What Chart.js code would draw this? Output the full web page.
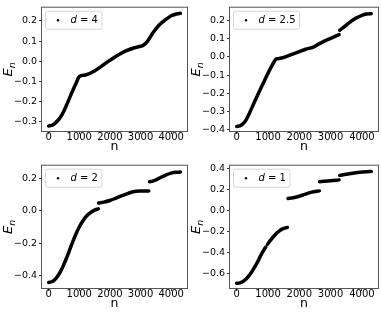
<!DOCTYPE html>
<html>
<head>
<meta charset="utf-8">
<script src="https://cdn.jsdelivr.net/npm/chart.js@4.4.1/dist/chart.umd.min.js"></script>
<style>
html, body { margin: 0; padding: 0; background: #fff; }
#wrap { position: relative; width: 381px; height: 317px; }
canvas { position: absolute; }
</style>
</head>
<body>
<div id="wrap">
  <canvas id="c1" width="190" height="158" style="left:0px;top:0px"></canvas>
  <canvas id="c2" width="191" height="158" style="left:190px;top:0px"></canvas>
  <canvas id="c3" width="190" height="159" style="left:0px;top:158px"></canvas>
  <canvas id="c4" width="191" height="159" style="left:190px;top:158px"></canvas>
</div>
<script>
// x ticks shared by all panels
const nTicks = [0, 1000, 2000, 3000, 4000];

// d = 4
const d4N = [0, 100, 200, 300, 400, 500, 600, 700, 800, 900, 1000, 1200, 1500, 2000, 2500, 2800, 3000, 3080, 3230, 3400, 3600, 3770, 4000, 4200, 4300];
const d4E = [-0.32, -0.317, -0.308, -0.293, -0.273, -0.246, -0.212, -0.176, -0.141, -0.108, -0.076, -0.068, -0.048, 0.005, 0.05, 0.067, 0.074, 0.078, 0.1, 0.14, 0.178, 0.2, 0.225, 0.235, 0.237];
const d4Ticks = [-0.3, -0.2, -0.1, 0.0, 0.1, 0.2];

// d = 2.5
const d25N = [0, 100, 200, 300, 400, 500, 600, 700, 800, 900, 1000, 1100, 1200, 1250, 1300, 1500, 1700, 2000, 2200, 2450, 2600, 2800, 3000, 3270, null, 3290, 3400, 3600, 3800, 4000, 4150, 4300];
const d25E = [-0.385, -0.382, -0.37, -0.348, -0.314, -0.275, -0.237, -0.199, -0.162, -0.126, -0.09, -0.056, -0.025, -0.012, -0.01, -0.003, 0.01, 0.03, 0.043, 0.055, 0.07, 0.088, 0.103, 0.124, null, 0.148, 0.162, 0.19, 0.214, 0.231, 0.238, 0.24];
const d25Ticks = [-0.4, -0.3, -0.2, -0.1, 0.0, 0.1, 0.2];

// d = 2
const d2N = [0, 100, 200, 300, 400, 500, 600, 700, 800, 900, 1000, 1100, 1200, 1300, 1400, 1500, 1620, null, 1630, 1800, 2000, 2200, 2400, 2600, 2800, 3000, 3270, null, 3290, 3400, 3600, 3800, 4000, 4150, 4300];
const d2E = [-0.445, -0.441, -0.428, -0.405, -0.373, -0.333, -0.286, -0.236, -0.186, -0.14, -0.1, -0.067, -0.04, -0.02, -0.006, 0.005, 0.013, null, 0.05, 0.055, 0.065, 0.08, 0.096, 0.11, 0.121, 0.124, 0.125, null, 0.182, 0.186, 0.203, 0.222, 0.236, 0.241, 0.242];
const d2Ticks = [-0.4, -0.2, 0.0, 0.2];

// d = 1
const d1N = [0, 100, 200, 300, 400, 500, 600, 700, 800, 900, 930, null, 985, 1100, 1200, 1300, 1400, 1500, 1620, null, 1640, 1800, 2000, 2200, 2400, 2640, null, 2650, 2800, 3000, 3270, null, 3290, 3400, 3600, 3800, 4000, 4150, 4300];
const d1E = [-0.69, -0.686, -0.672, -0.65, -0.615, -0.572, -0.522, -0.467, -0.408, -0.357, -0.345, null, -0.318, -0.272, -0.237, -0.207, -0.183, -0.167, -0.158, null, 0.118, 0.124, 0.14, 0.16, 0.178, 0.19, null, 0.278, 0.281, 0.286, 0.295, null, 0.338, 0.343, 0.354, 0.363, 0.369, 0.373, 0.375];
const d1Ticks = [-0.6, -0.4, -0.2, 0.0, 0.2, 0.4];

const FONT = 'DejaVu Sans';

function fmtTick(v) {
    const s = Math.abs(v).toFixed(1);
    return (v < -1e-9 ? '\u2212' : '') + s;
}

// frame, legend box and axis labels
const panelDecor = {
    id: 'panelDecor',
    afterDraw(chart, args, opts) {
        const ctx = chart.ctx;
        const a = chart.chartArea;
        ctx.save();

        // spines
        ctx.strokeStyle = '#555';
        ctx.lineWidth = 1;
        ctx.strokeRect(a.left - 0.5, a.top - 0.5, a.right - a.left + 1, a.bottom - a.top + 1);

        // legend
        const rest = ' = ' + opts.value;
        ctx.font = 'italic 10px ' + FONT;
        const dW = ctx.measureText('d').width;
        ctx.font = '10px ' + FONT;
        const rW = ctx.measureText(rest).width;
        const bx = a.left + 3.5, by = a.top + 3.5, bh = 18;
        const bw = 25 + dW + rW + 4;
        ctx.beginPath();
        ctx.roundRect(bx, by, bw, bh, 2);
        ctx.fillStyle = 'rgba(255,255,255,0.85)';
        ctx.fill();
        ctx.strokeStyle = '#d6d6d6';
        ctx.stroke();
        ctx.beginPath();
        ctx.arc(bx + 12.5, by + bh / 2, 1.2, 0, Math.PI * 2);
        ctx.fillStyle = '#000';
        ctx.fill();
        ctx.textBaseline = 'middle';
        ctx.textAlign = 'left';
        ctx.font = 'italic 10px ' + FONT;
        ctx.fillText('d', bx + 25, by + bh / 2 + 0.5);
        ctx.font = '10px ' + FONT;
        ctx.fillText(rest, bx + 25 + dW, by + bh / 2 + 0.5);

        // x label
        ctx.font = '12.5px ' + FONT;
        ctx.textAlign = 'center';
        ctx.textBaseline = 'alphabetic';
        ctx.fillText('n', (a.left + a.right) / 2, a.bottom + 19);

        // y label E_n
        const cy = (a.top + a.bottom) / 2;
        ctx.translate(a.left - 30, cy);
        ctx.rotate(-Math.PI / 2);
        ctx.font = 'italic 13px ' + FONT;
        const eW = ctx.measureText('E').width;
        ctx.font = 'italic 9.5px ' + FONT;
        const nW = ctx.measureText('n').width;
        const x0 = -(eW + nW) / 2;
        ctx.textAlign = 'left';
        ctx.font = 'italic 13px ' + FONT;
        ctx.fillText('E', x0, 0);
        ctx.font = 'italic 9.5px ' + FONT;
        ctx.fillText('n', x0 + eW, 2.5);
        ctx.restore();
    }
};

function makePanel(id, nArr, eArr, yTicks, yMin, yMax, label, leftW, bottomH) {
    const points = nArr.map((n, i) => ({ x: n, y: eArr[i] }));
    new Chart(document.getElementById(id), {
        type: 'scatter',
        data: {
            datasets: [{
                data: points,
                showLine: true,
                spanGaps: false,
                borderColor: '#000',
                borderWidth: 3.5,
                borderCapStyle: 'round',
                borderJoinStyle: 'round',
                cubicInterpolationMode: 'monotone',
                pointRadius: 0
            }]
        },
        options: {
            responsive: false,
            animation: false,
            devicePixelRatio: 1,
            layout: { padding: { left: 0, right: 3, top: 3, bottom: 0 } },
            plugins: {
                legend: { display: false },
                tooltip: { enabled: false },
                panelDecor: { value: label }
            },
            scales: {
                x: {
                    type: 'linear',
                    min: -215,
                    max: 4515,
                    afterBuildTicks: s => { s.ticks = nTicks.map(v => ({ value: v })); },
                    afterFit: s => { s.height = bottomH; },
                    ticks: {
                        color: '#000',
                        font: { family: FONT, size: 10 },
                        padding: -3,
                        maxRotation: 0,
                        autoSkip: false,
                        callback: v => String(v)
                    },
                    grid: { drawOnChartArea: false, tickLength: 3, color: '#333' },
                    border: { display: false }
                },
                y: {
                    type: 'linear',
                    min: yMin,
                    max: yMax,
                    afterBuildTicks: s => { s.ticks = yTicks.map(v => ({ value: v })); },
                    afterFit: s => { s.width = leftW; },
                    ticks: {
                        color: '#000',
                        font: { family: FONT, size: 9.5 },
                        padding: 2,
                        callback: v => fmtTick(v)
                    },
                    grid: { drawOnChartArea: false, tickLength: 3, color: '#333' },
                    border: { display: false }
                }
            }
        },
        plugins: [panelDecor]
    });
}

makePanel('c1', d4N, d4E, d4Ticks, -0.345, 0.265, '4', 42, 27);
makePanel('c2', d25N, d25E, d25Ticks, -0.41, 0.273, '2.5', 40, 27);
makePanel('c3', d2N, d2E, d2Ticks, -0.48, 0.282, '2', 42, 29);
makePanel('c4', d1N, d1E, d1Ticks, -0.735, 0.43, '1', 40, 29);
</script>
</body>
</html>
